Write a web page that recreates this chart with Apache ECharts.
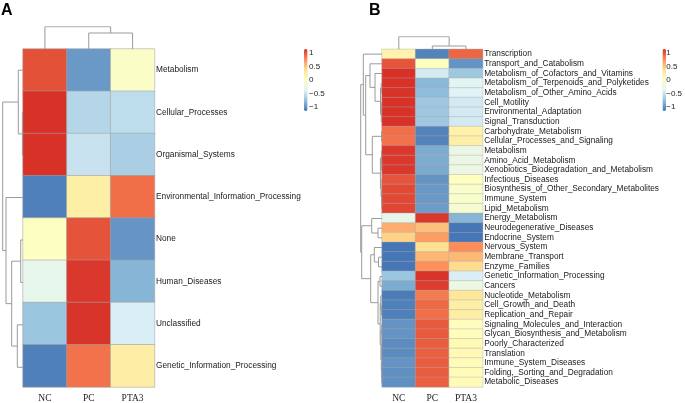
<!DOCTYPE html>
<html>
<head>
<meta charset="utf-8">
<title>Heatmaps A / B</title>
<script src="https://cdn.jsdelivr.net/npm/echarts@6.0.0/dist/echarts.min.js"></script>
<style>
html, body { margin: 0; padding: 0; background: #fff; }
#chart { width: 685px; height: 403px; }
</style>
</head>
<body>
<div id="chart"></div>
<script>
// columns (samples)
var samples = ['NC', 'PC', 'PTA3'];

// panel A : level 1 pathways, row z-scores [NC, PC, PTA3]
var rowsA = ['Metabolism', 'Cellular_Processes', 'Organismal_Systems', 'Environmental_Information_Processing',
  'None', 'Human_Diseases', 'Unclassified', 'Genetic_Information_Processing'];
var valuesA = [
  [1.02, -0.97, -0.05],
  [1.15, -0.6, -0.55],
  [1.15, -0.5, -0.65],
  [-1.1, 0.2, 0.9],
  [-0.02, 1.01, -0.99],
  [-0.3, 1.12, -0.82],
  [-0.72, 1.14, -0.42],
  [-1.1, 0.88, 0.22]
];

// panel B : level 2 pathways
var rowsB = ['Transcription', 'Transport_and_Catabolism', 'Metabolism_of_Cofactors_and_Vitamins',
  'Metabolism_of_Terpenoids_and_Polyketides', 'Metabolism_of_Other_Amino_Acids', 'Cell_Motility',
  'Environmental_Adaptation', 'Signal_Transduction', 'Carbohydrate_Metabolism', 'Cellular_Processes_and_Signaling',
  'Metabolism', 'Amino_Acid_Metabolism', 'Xenobiotics_Biodegradation_and_Metabolism', 'Infectious_Diseases',
  'Biosynthesis_of_Other_Secondary_Metabolites', 'Immune_System', 'Lipid_Metabolism', 'Energy_Metabolism',
  'Neurodegenerative_Diseases', 'Endocrine_System', 'Nervous_System', 'Membrane_Transport', 'Enzyme_Families',
  'Genetic_Information_Processing', 'Cancers', 'Nucleotide_Metabolism', 'Cell_Growth_and_Death',
  'Replication_and_Repair', 'Signaling_Molecules_and_Interaction', 'Glycan_Biosynthesis_and_Metabolism',
  'Poorly_Characterized', 'Translation', 'Immune_System_Diseases', 'Folding,_Sorting_and_Degradation',
  'Metabolic_Diseases'];
var valuesB = [
  [0.15, -1.08, 0.93],
  [1.0, 0.0, -1.0],
  [1.15, -0.45, -0.7],
  [1.15, -0.8, -0.35],
  [1.15, -0.78, -0.37],
  [1.15, -0.7, -0.45],
  [1.15, -0.7, -0.45],
  [1.15, -0.7, -0.45],
  [0.9, -1.08, 0.18],
  [0.88, -1.08, 0.2],
  [1.12, -0.87, -0.25],
  [1.12, -0.87, -0.25],
  [1.12, -0.88, -0.24],
  [1.0, -1.0, 0.0],
  [1.05, -0.97, -0.08],
  [1.05, -0.97, -0.08],
  [1.06, -0.95, -0.11],
  [-0.3, 1.12, -0.82],
  [0.62, 0.53, -1.15],
  [0.45, 0.7, -1.15],
  [-1.15, 0.38, 0.77],
  [-1.15, 0.58, 0.57],
  [-1.15, 0.75, 0.4],
  [-0.72, 1.14, -0.42],
  [-0.87, 1.1, -0.23],
  [-1.12, 0.85, 0.3],
  [-1.1, 0.92, 0.2],
  [-1.1, 0.9, 0.22],
  [-1.0, 0.98, 0.02],
  [-1.0, 0.98, 0.03],
  [-1.04, 0.97, 0.08],
  [-1.04, 0.96, 0.08],
  [-1.0, 0.97, 0.04],
  [-1.02, 0.97, 0.05],
  [-1.02, 0.96, 0.06]
];

// dendrograms: [height, left, right], leaves are row / column indices
var colTreeA = [22.3, 0, [16, 1, 2]];
var rowTreeA = [20.3, [4.7, 0, [0.6, 1, 2]], [17, 3, [11.3, [2.3, 4, 5], [5.7, 6, 7]]]];
var colTreeB = [12.6, 0, [3.3, 1, 2]];
var rowTreeB = [21.3,
  [18.7, 0, [16.3,
    [12, 1, [7, 2, [1.5, [0.8, 3, 4], [0.7, [0.4, 5, 6], 7]]]],
    [9.7, [0.4, 8, 9], [1.6, [0.6, 10, [0.3, 11, 12]], [0.9, 13, [0.5, 14, [0.3, 15, 16]]]]]]],
  [20.3,
    [10.3, 17, [4, 18, 19]],
    [11.3, [7.7, 20, [3.5, 21, 22]],
      [4, [2, 23, 24], [1.8, [1.2, 25, [0.4, 26, 27]], [1.0, [0.3, 28, 29], [0.7, [0.3, 30, 31], [0.4, 32, [0.2, 33, 34]]]]]]]]];

// colour key
var legendRange = [-1.155, 1.155];
var legendTicks = [-1, -0.5, 0, 0.5, 1];
var palette = ['#4575B4', '#91BFDB', '#E0F3F8', '#FFFFBF', '#FEE090', '#FC8D59', '#D73027'];

function toCells(values) {
  var out = [];
  values.forEach(function (row, r) {
    row.forEach(function (v, c) { out.push([c, r, v]); });
  });
  return out;
}

// walk a tree, return polylines; rows=true -> x is height, y is position
function treeLines(tree, rows) {
  var segs = [];
  function walk(n) {
    if (typeof n === 'number') return { p: n + 0.5, h: 0 };
    var a = walk(n[1]), b = walk(n[2]), h = n[0];
    var pts = [[a.h, a.p], [h, a.p], [h, b.p], [b.h, b.p]];
    if (!rows) pts = pts.map(function (q) { return [q[1], q[0]]; });
    segs.push({ coords: pts });
    return { p: (a.p + b.p) / 2, h: h };
  }
  walk(tree);
  return segs;
}

var sans = 'Liberation Sans, Arial, sans-serif';
var serif = 'Liberation Serif, Times New Roman, serif';
var lineGray = { color: '#9a9a9a', width: 1, opacity: 1 };
var hidden = { show: false };

var chartDom = document.getElementById('chart');
var myChart = echarts.init(chartDom);

function heatAxes(grid, rows, fs) {
  return {
    x: {
      type: 'category', gridIndex: grid, data: samples, position: 'bottom',
      axisLine: hidden, axisTick: hidden, splitLine: hidden,
      axisLabel: { fontFamily: serif, fontSize: 9.5, color: '#222', margin: 6 }
    },
    y: {
      type: 'category', gridIndex: grid, data: rows, inverse: true, position: 'right',
      axisLine: hidden, axisTick: hidden, splitLine: hidden,
      axisLabel: { fontFamily: sans, fontSize: fs, color: '#1a1a1a', margin: 1.5, interval: 0 }
    }
  };
}

var axA = heatAxes(0, rowsA, 8.3);
var axB = heatAxes(1, rowsB, 8.3);

function valAxis(grid, min, max, inverse) {
  return { type: 'value', gridIndex: grid, min: min, max: max, inverse: !!inverse, show: false };
}

function keyAxis(grid) {
  return {
    type: 'value', gridIndex: grid, min: legendRange[0], max: legendRange[1], position: 'right',
    axisLine: hidden, axisTick: hidden, splitLine: hidden,
    axisLabel: {
      customValues: legendTicks, fontFamily: sans, fontSize: 8, color: '#222', margin: 1.5,
      formatter: function (v) { return String(v).replace('-', '\u2212'); }
    }
  };
}

var option = {
  animation: false,
  backgroundColor: '#fff',
  title: [
    { text: 'A', left: 1, top: 3, padding: 0, textStyle: { fontFamily: sans, fontSize: 16, fontWeight: 'bold', color: '#000' } },
    { text: 'B', left: 369, top: 3, padding: 0, textStyle: { fontFamily: sans, fontSize: 16, fontWeight: 'bold', color: '#000' } }
  ],
  grid: [
    { left: 23, top: 49, width: 131.5, height: 339.5 },   // 0 heatmap A
    { left: 382, top: 49.3, width: 100.7, height: 338.4 }, // 1 heatmap B
    { left: 2.7, top: 49, width: 20.3, height: 339.5 },   // 2 row tree A
    { left: 23, top: 26.7, width: 131.5, height: 22.3 },  // 3 col tree A
    { left: 360.7, top: 49.3, width: 21.3, height: 338.4 }, // 4 row tree B
    { left: 382, top: 36.7, width: 100.7, height: 12.6 }, // 5 col tree B
    { left: 304, top: 49, width: 3.5, height: 62 },       // 6 key A labels
    { left: 662.5, top: 49, width: 3.5, height: 62 }      // 7 key B labels
  ],
  xAxis: [
    axA.x, axB.x,
    valAxis(2, 0, rowTreeA[0], true),
    valAxis(3, 0, samples.length),
    valAxis(4, 0, rowTreeB[0], true),
    valAxis(5, 0, samples.length),
    { type: 'value', gridIndex: 6, show: false },
    { type: 'value', gridIndex: 7, show: false }
  ],
  yAxis: [
    axA.y, axB.y,
    valAxis(2, 0, rowsA.length, true),
    valAxis(3, 0, colTreeA[0]),
    valAxis(4, 0, rowsB.length, true),
    valAxis(5, 0, colTreeB[0]),
    keyAxis(6), keyAxis(7)
  ],
  visualMap: [
    {
      type: 'continuous', seriesIndex: 0, min: legendRange[0], max: legendRange[1],
      calculable: false, text: null, showLabel: false, itemWidth: 3.5, itemHeight: 62,
      left: 304, top: 49, padding: 0, inRange: { color: palette }
    },
    {
      type: 'continuous', seriesIndex: 1, min: legendRange[0], max: legendRange[1],
      calculable: false, text: null, showLabel: false, itemWidth: 3.5, itemHeight: 62,
      left: 662.5, top: 49, padding: 0, inRange: { color: palette }
    }
  ],
  series: [
    {
      type: 'heatmap', xAxisIndex: 0, yAxisIndex: 0, data: toCells(valuesA),
      itemStyle: { borderColor: 'rgba(160,160,160,0.55)', borderWidth: 1 },
      emphasis: { disabled: true }
    },
    {
      type: 'heatmap', xAxisIndex: 1, yAxisIndex: 1, data: toCells(valuesB),
      itemStyle: { borderColor: 'rgba(170,170,170,0.5)', borderWidth: 0.8 },
      emphasis: { disabled: true }
    },
    { type: 'lines', coordinateSystem: 'cartesian2d', xAxisIndex: 2, yAxisIndex: 2, polyline: true, silent: true,
      lineStyle: lineGray, data: treeLines(rowTreeA, true) },
    { type: 'lines', coordinateSystem: 'cartesian2d', xAxisIndex: 3, yAxisIndex: 3, polyline: true, silent: true,
      lineStyle: lineGray, data: treeLines(colTreeA, false) },
    { type: 'lines', coordinateSystem: 'cartesian2d', xAxisIndex: 4, yAxisIndex: 4, polyline: true, silent: true,
      lineStyle: lineGray, data: treeLines(rowTreeB, true) },
    { type: 'lines', coordinateSystem: 'cartesian2d', xAxisIndex: 5, yAxisIndex: 5, polyline: true, silent: true,
      lineStyle: lineGray, data: treeLines(colTreeB, false) }
  ]
};

myChart.setOption(option);

window.addEventListener('resize', function () {
  myChart.resize();
});
</script>
</body>
</html>
